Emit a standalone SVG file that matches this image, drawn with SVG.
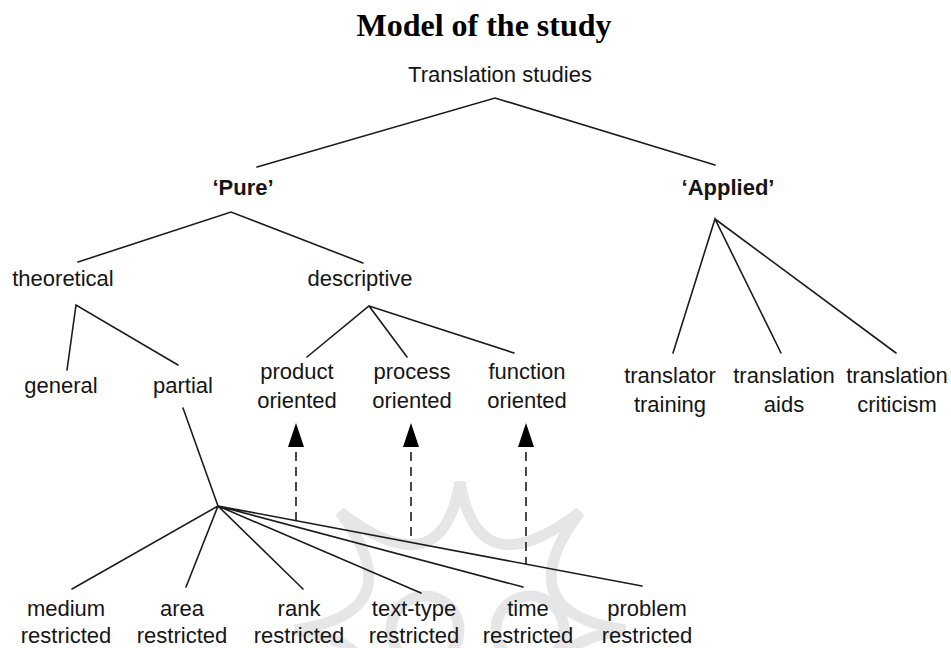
<svg xmlns="http://www.w3.org/2000/svg" width="951" height="648" viewBox="0 0 951 648">
  <style>
    .t { font-family: "Liberation Sans", Arial, sans-serif; font-size: 22px; fill: #151515; text-anchor: middle; }
    .b { font-weight: bold; }
    .title { font-family: "Liberation Serif", "Times New Roman", serif; font-size: 32px; font-weight: bold; fill: #000; text-anchor: middle; }
    .ln { stroke: #1c1c1c; stroke-width: 1.6; fill: none; stroke-linecap: round; }
    .dash { stroke: #1c1c1c; stroke-width: 1.6; fill: none; stroke-dasharray: 9 6; }
    .wm { stroke: #e6e6e6; stroke-width: 11; fill: none; }
  </style>
  <defs>
    <marker id="arrow" markerUnits="userSpaceOnUse" markerWidth="32" markerHeight="20" viewBox="0 -10 32 20" refX="0" refY="0" orient="auto-start-reverse">
      <path d="M5,-8 L29,0 L5,8 Z" fill="#000"/>
    </marker>
  </defs>
  <rect width="951" height="648" fill="#fff"/>

  <g id="watermark">
    <path class="wm" d="M460,482 Q478,590 580,512 Q505,612 625,630 Q505,648 580,748 Q478,670 460,778 Q442,670 340,748 Q415,648 295,630 Q415,612 340,512 Q442,590 460,482 Z"/>
    <circle class="wm" cx="425" cy="630" r="34"/>
    <circle class="wm" cx="530" cy="630" r="34"/>
  </g>

  <text id="title" class="title" x="484" y="36">Model of the study</text>

  <g id="connectors">
    <path class="ln" d="M257,167 L495,98 L715,165"/>
    <path class="ln" d="M78,262 L231,212 L363,263"/>
    <path class="ln" d="M67,370 L76,305 L178,365"/>
    <path class="ln" d="M307,357 L369,306 L407,357 M369,306 L514,353"/>
    <path class="ln" d="M673,353 L715,219 L781,353 M715,219 L896,353"/>
    <path class="ln" d="M183,408 L218,506"/>
    <path class="ln" d="M218,506 L72,589 M218,506 L186,587 M218,506 L303,589 M218,506 L421,593 M218,506 L523,587 M218,506 L642,586"/>
    <path class="dash" d="M296,452 L296,521" marker-start="url(#arrow)"/>
    <path class="dash" d="M411,452 L411,542" marker-start="url(#arrow)"/>
    <path class="dash" d="M526,452 L526,564" marker-start="url(#arrow)"/>
  </g>

  <g id="translation-studies"><text class="t" x="500" y="82">Translation studies</text></g>
  <g id="pure"><text class="t b" x="243" y="195">‘Pure’</text></g>
  <g id="applied"><text class="t b" x="728" y="195">‘Applied’</text></g>
  <g id="theoretical"><text class="t" x="63" y="286">theoretical</text></g>
  <g id="descriptive"><text class="t" x="360" y="286">descriptive</text></g>
  <g id="general"><text class="t" x="61" y="393">general</text></g>
  <g id="partial"><text class="t" x="183" y="393">partial</text></g>
  <g id="product-oriented"><text class="t" x="297" y="379">product</text><text class="t" x="297" y="408">oriented</text></g>
  <g id="process-oriented"><text class="t" x="412" y="379">process</text><text class="t" x="412" y="408">oriented</text></g>
  <g id="function-oriented"><text class="t" x="527" y="379">function</text><text class="t" x="527" y="408">oriented</text></g>
  <g id="translator-training"><text class="t" x="670" y="383">translator</text><text class="t" x="670" y="412">training</text></g>
  <g id="translation-aids"><text class="t" x="784" y="383">translation</text><text class="t" x="784" y="412">aids</text></g>
  <g id="translation-criticism"><text class="t" x="897" y="383">translation</text><text class="t" x="897" y="412">criticism</text></g>
  <g id="medium-restricted"><text class="t" x="66" y="616">medium</text><text class="t" x="66" y="643">restricted</text></g>
  <g id="area-restricted"><text class="t" x="182" y="616">area</text><text class="t" x="182" y="643">restricted</text></g>
  <g id="rank-restricted"><text class="t" x="299" y="616">rank</text><text class="t" x="299" y="643">restricted</text></g>
  <g id="text-type-restricted"><text class="t" x="414" y="616">text-type</text><text class="t" x="414" y="643">restricted</text></g>
  <g id="time-restricted"><text class="t" x="528" y="616">time</text><text class="t" x="528" y="643">restricted</text></g>
  <g id="problem-restricted"><text class="t" x="647" y="616">problem</text><text class="t" x="647" y="643">restricted</text></g>
</svg>
